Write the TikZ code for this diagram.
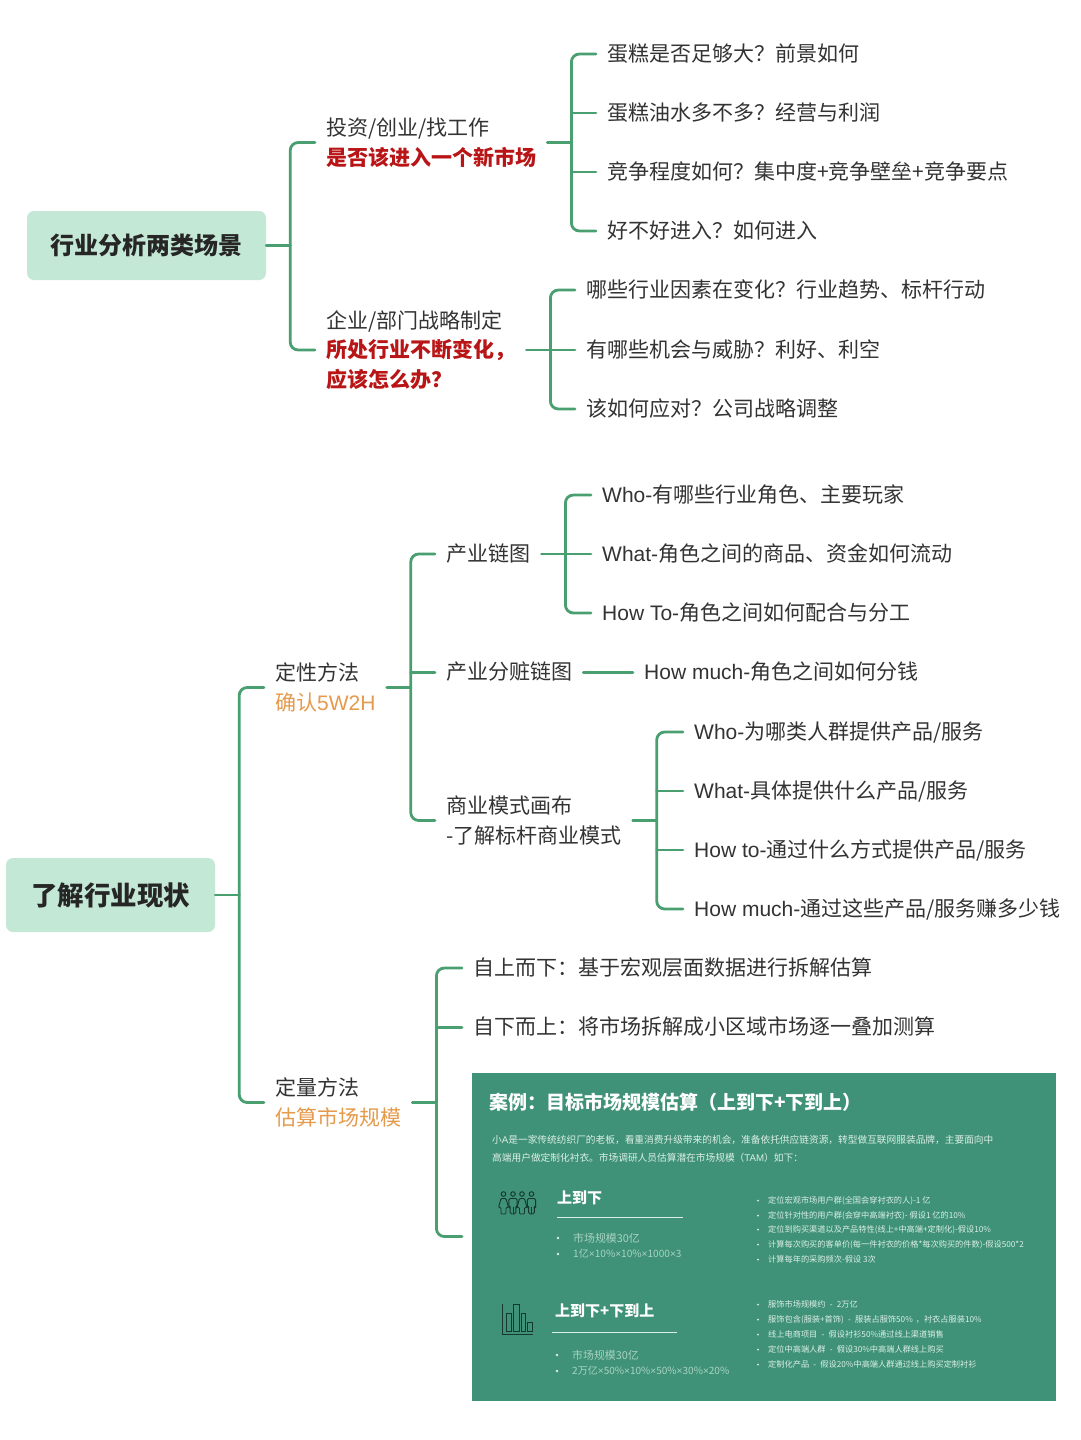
\documentclass[tikz,border=0pt]{standalone}
\usepackage{fontspec}
\setmainfont{Noto Sans CJK SC}
\newfontfamily\latf{Liberation Sans}
\newcommand\lat[1]{{\latf #1}}
\newcommand\fs[2]{\fontsize{#1}{#2}\selectfont}
\newcommand\st{\rule[-.2em]{0pt}{1.11em}}
\newcommand\stm{\rule[-.1em]{0pt}{1.15em}}
\definecolor{lineg}{HTML}{4A9F70}
\definecolor{rootg}{HTML}{C4E8D6}
\definecolor{panelg}{HTML}{3F9277}
\definecolor{txt}{HTML}{333333}
\definecolor{redt}{HTML}{B91516}
\definecolor{orgt}{HTML}{E59A4C}
\definecolor{softt}{HTML}{A9D3C3}
\definecolor{smallt}{HTML}{DCEFE7}
\definecolor{icond}{HTML}{17382D}
\tikzset{
 conn/.style={draw=lineg,line width=2.8pt,line cap=round},
 curve/.style={conn,rounded corners=8pt},
 rootbox/.style={fill=rootg,rounded corners=7pt,text=black!85,font=\bfseries,inner sep=0pt},
 itembase/.style={anchor=west,inner xsep=11pt,inner ysep=0pt,text=txt,font=\fs{21}{29.5},align=left},
 item/.style={itembase,execute at begin node=\st,execute at end node=\st},
 multi/.style={itembase,execute at begin node=\stm,execute at end node=\stm},
 ptitle/.style={anchor=west,inner sep=0pt,text=white,font=\bfseries\fs{19}{24}},
 para/.style={anchor=west,inner sep=0pt,yshift=-.5pt,text=smallt,font=\fs{9.7}{12}},
 phead/.style={anchor=west,inner sep=0pt,text=white,font=\bfseries\fs{15}{18}},
 pbul/.style={anchor=west,inner sep=0pt,text=softt,font=\fs{10.9}{13}},
 psmall/.style={anchor=west,inner sep=0pt,yshift=-.7pt,text=smallt,font=\fs{8.2}{10}},
 rule/.style={draw=smallt,line width=1pt},
 dotm/.style={fill=smallt},
 iconl/.style={draw=icond,line width=.95pt},
}
% \fork{stub}{parent}{top}{bottom}{middles}
\newcommand\fork[5]{%
 \draw[conn] (#2.east) -- ++(#1,0) coordinate (j#2);
 \draw[curve] (#3.west) -| (j#2);
 \draw[curve] (#4.west) -| (j#2);
 \foreach \m in {#5} {\draw[conn] (j#2 |- \m.west) -- (\m.west);}
}
\newcommand\dash{\hspace{2pt}\lat{ - }\hspace{2pt}}
\begin{document}
\begin{tikzpicture}[x=1pt,y=-1pt]
\useasboundingbox[fill=white] (0,0) rectangle (1080,1440);
% ---- first tree
\node[rootbox,minimum width=239pt,minimum height=69pt,font=\bfseries\fs{24}{28}] (r1) at (146.5,245.5) {\raisebox{-1.5pt}{行业分析两类场景}};
\node[multi] (a) at (315,142.5) {投资/创业/找工作\\\textcolor{redt}{\bfseries 是否该进入一个新市场}};
\node[multi] (b) at (315,350) {企业/部门战略制定\\\textcolor{redt}{\bfseries 所处行业不断变化，}\\\textcolor{redt}{\bfseries 应该怎么办？}};
\node[item] (a1) at (596,54) {蛋糕是否足够大？前景如何};
\node[item] (a2) at (596,113) {蛋糕油水多不多？经营与利润};
\node[item] (a3) at (596,172) {竞争程度如何？集中度+竞争壁垒+竞争要点};
\node[item] (a4) at (596,231) {好不好进入？如何进入};
\node[item] (b1) at (575,290) {哪些行业因素在变化？行业趋势、标杆行动};
\node[item] (b2) at (575,350) {有哪些机会与威胁？利好、利空};
\node[item] (b3) at (575,409) {该如何应对？公司战略调整};
\fork{24}{r1}{a}{b}{}
\fork{24}{a}{a1}{a4}{a2,a3}
\fork{24}{b}{b1}{b3}{b2}
% ---- second tree
\node[rootbox,minimum width=209pt,minimum height=74pt,font=\bfseries\fs{26.5}{30}] (r2) at (110.5,895) {了解行业现状};
\node[multi] (c) at (264,687.5) {定性方法\\\textcolor{orgt}{确认\lat{5W2H}}};
\node[multi] (d) at (264,1102.5) {定量方法\\\textcolor{orgt}{估算市场规模}};
\node[item] (c1) at (435,554) {产业链图};
\node[item] (c2) at (435,672.5) {产业分赃链图};
\node[multi] (c3) at (435,820.5) {商业模式画布\\-了解标杆商业模式};
\node[item] (c11) at (591,495) {\lat{Who-}有哪些行业角色、主要玩家};
\node[item] (c12) at (591,554) {\lat{What-}角色之间的商品、资金如何流动};
\node[item] (c13) at (591,613) {\lat{How To-}角色之间如何配合与分工};
\node[item] (c21) at (633,672.5) {\lat{How much-}角色之间如何分钱};
\node[item] (c31) at (683,732) {\lat{Who-}为哪类人群提供产品/服务};
\node[item] (c32) at (683,791) {\lat{What-}具体提供什么产品/服务};
\node[item] (c33) at (683,850) {\lat{How to-}通过什么方式提供产品/服务};
\node[item] (c34) at (683,909) {\lat{How much-}通过这些产品/服务赚多少钱};
\node[item] (d1) at (462,968) {自上而下：基于宏观层面数据进行拆解估算};
\node[item] (d2) at (462,1027.5) {自下而上：将市场拆解成小区域市场逐一叠加测算};
\node[fill=panelg,minimum width=584pt,minimum height=328pt,inner sep=0pt] (p) at (764,1236.5) {};
\coordinate (pin) at (462,1236.5);
\fork{24}{r2}{c}{d}{}
\fork{24}{c}{c1}{c3}{c2}
\fork{24}{c1}{c11}{c13}{c12}
\draw[conn] (c2.east) -- (c21.west);
\fork{24}{c3}{c31}{c34}{c32,c33}
\draw[conn] (d.east) -- ++(24,0) coordinate (jd);
\draw[curve] (d1.west) -| (jd);
\draw[curve] (pin) -| (jd);
\draw[conn] (jd |- d2.west) -- (d2.west);
% ---- panel content
\node[ptitle] (t0) at (489,1102) {案例：目标市场规模估算（上到下+下到上）};
\node[para] (t1) at (492,1139) {小\lat{A}是一家传统纺织厂的老板，看重消费升级带来的机会，准备依托供应链资源，转型做互联网服装品牌，主要面向中};
\node[para] (t2) at (492,1157) {高端用户做定制化衬衣。市场调研人员估算潜在市场规模（\lat{TAM}）如下：};
\node[phead] (h1) at (557,1198) {上到下};
\draw[rule] (557,1217) -- (683,1217);
\node[phead] (h2) at (555,1311) {上到下+下到上};
\draw[rule] (552,1332) -- (677,1332);
\foreach \n/\x/\y/\s in {
 l1/573/1238/{市场规模30亿},
 l2/573/1254/{\fs{10.1}{13}1亿\lat{×}10\%\lat{×}10\%\lat{×}1000\lat{×}3},
 l3/572/1355/{市场规模30亿},
 l4/572/1371/{\fs{10.05}{13}2万亿\lat{×}50\%\lat{×}10\%\lat{×}50\%\lat{×}30\%\lat{×}20\%}}
 {\node[pbul] (\n) at (\x,\y) {\s};
  \fill[dotm] ([xshift=-15pt]\n.west) circle (1.3pt);}
\foreach \n/\y/\s in {
 s1/1200/{定位宏观市场用户群(全国会穿衬衣的人)-1 亿},
 s2/1215/{定位针对性的用户群(会穿中高端衬衣)- 假设1 亿的10\%},
 s3/1229/{定位到购买渠道以及产品特性(线上+中高端+定制化)-假设10\%},
 s4/1244/{计算每次购买的客单价(每一件衬衣的价格*每次购买的件数)-假设500*2},
 s5/1259/{计算每年的采购频次-假设 3次},
 s6/1304/{服饰市场规模约\dash 2万亿},
 s7/1319/{服饰包含(服装+首饰)\dash 服装占服饰50\%\hspace{3pt}，衬衣占服装10\%},
 s8/1334/{线上电商项目\dash 假设衬衫50\%通过线上渠道销售},
 s9/1349/{定位中高端人群\dash 假设30\%中高端人群线上购买},
 s10/1364/{定制化产品\dash 假设20\%中高端人群通过线上购买定制衬衫}}
 {\node[psmall] (\n) at (768,\y) {\s};
  \fill[dotm] ([xshift=-10pt]\n.west) circle (1pt);}
% people icon
\foreach \cx/\kind in {503.5/0,513/1,522/0,531.5/1} {
 \draw[iconl] (\cx,1194) circle (2.3);
 \ifnum\kind=0
  \draw[iconl,rounded corners=1pt] (\cx-2.5,1198.5) -- (\cx+2.5,1198.5) -- (\cx+5,1207.5) -- (\cx+2.5,1207.5) -- (\cx+2.5,1214) -- (\cx-2.5,1214) -- (\cx-2.5,1207.5) -- (\cx-5,1207.5) -- cycle;
 \else
  \draw[iconl,rounded corners=1.5pt] (\cx-2.8,1214) -- (\cx-2.8,1207) -- (\cx-4.2,1207) -- (\cx-4.2,1198.5) -- (\cx+4.2,1198.5) -- (\cx+4.2,1207) -- (\cx+2.8,1207) -- (\cx+2.8,1214) -- cycle;
  \draw[iconl] (\cx,1207) -- (\cx,1214);
 \fi
}
% chart icon
\draw[iconl] (502,1304) -- (502,1334.5) -- (533,1334.5);
\draw[iconl] (506,1313) rectangle (511,1331);
\draw[iconl] (513.5,1304) rectangle (519,1331);
\draw[iconl] (521,1313) rectangle (525.5,1331);
\draw[iconl] (527.5,1322) rectangle (532.5,1331);
\end{tikzpicture}
\end{document}
